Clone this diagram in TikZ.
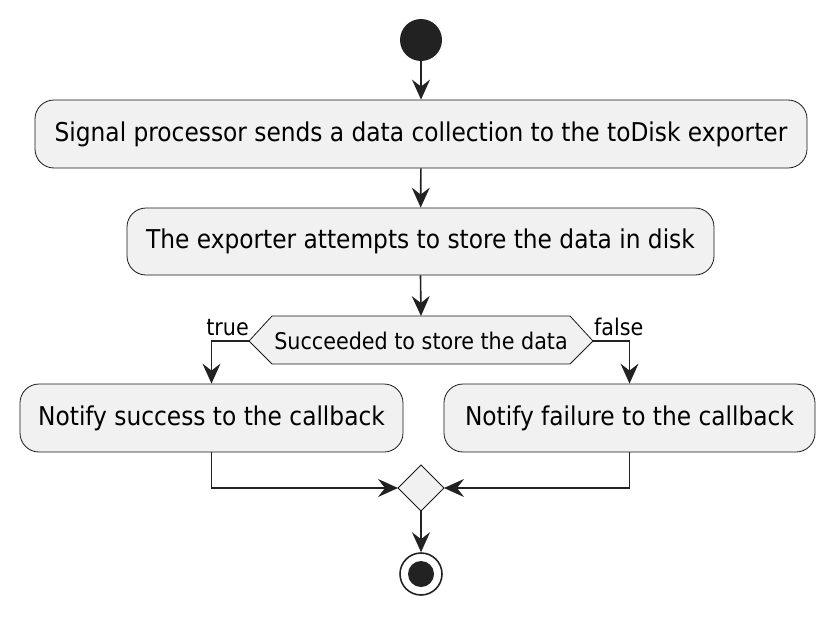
\documentclass[tikz,border=0pt]{standalone}
\usepackage{fontspec}
\setmainfont{DejaVu Sans Condensed}
\usetikzlibrary{arrows.meta}
\definecolor{boxfill}{HTML}{F1F1F1}
\definecolor{boxline}{HTML}{181818}
\definecolor{dark}{HTML}{222222}
\tikzset{
  act/.style={draw=boxline, line width=0.8pt, fill=boxfill, rounded corners=19pt, inner sep=0pt, font=\fontsize{25.9}{30}\selectfont},
  flow/.style={draw=dark, line width=1.6pt, -{Stealth[length=20pt, width=18pt, inset=7pt]}},
  plain/.style={draw=dark, line width=1.6pt},
  lbl/.style={font=\fontsize{23}{27}\selectfont, inner sep=0pt, text=black},
}
\begin{document}
\begin{tikzpicture}[x=1pt,y=-1pt]
\useasboundingbox (0,0) rectangle (834,618);
% start
\node[circle, fill=dark, minimum size=42pt, inner sep=0pt] (start) at (421,40) {};
% boxes
\node[act, minimum width=772pt, minimum height=68pt] (b1) at (421,134) {Signal processor sends a data collection to the toDisk exporter};
\node[act, minimum width=587pt, minimum height=67pt] (b2) at (420.5,241.5) {The exporter attempts to store the data in disk};
\node[act, minimum width=383pt, minimum height=68pt] (b3) at (211.5,418) {Notify success to the callback};
\node[act, minimum width=371pt, minimum height=68pt] (b4) at (629.5,418) {Notify failure to the callback};
% hexagon
\draw[draw=boxline, line width=0.8pt, fill=boxfill] (249,341) -- (272,316) -- (570,316) -- (593,341) -- (570,364) -- (272,364) -- cycle;
\coordinate (hexL) at (249,341);
\coordinate (hexR) at (593,341);
\coordinate (hexT) at (421,316);
\node[lbl] (cond) at (421,341) {Succeeded to store the data};
\node[lbl, anchor=south east] (ltrue) at (249,336) {true};
\node[lbl, anchor=south west] (lfalse) at (594,336) {false};
% merge diamond
\draw[draw=boxline, line width=0.8pt, fill=boxfill] (421,465) -- (444,488) -- (421,511) -- (398,488) -- cycle;
\coordinate (mL) at (398,488);
\coordinate (mR) at (444,488);
\coordinate (mB) at (421,511);
\coordinate (mT) at (421,465);
% end
\node[circle, draw=dark, line width=1.6pt, fill=white, minimum size=42pt, inner sep=0pt] (stop) at (421,574) {};
\node[circle, fill=dark, minimum size=26pt, inner sep=0pt] (stopin) at (421,574) {};
% connectors
\draw[flow] (start) -- (b1.north);
\draw[flow] (b1) -- (b2);
\draw[flow] (b2.south) -- (hexT);
\draw[flow] (hexL) -| (b3.north);
\draw[flow] (hexR) -| (b4.north);
\draw[flow] (b3.south) |- (mL);
\draw[flow] (b4.south) |- (mR);
\draw[flow] (mB) -- (stop);
\end{tikzpicture}
\end{document}
